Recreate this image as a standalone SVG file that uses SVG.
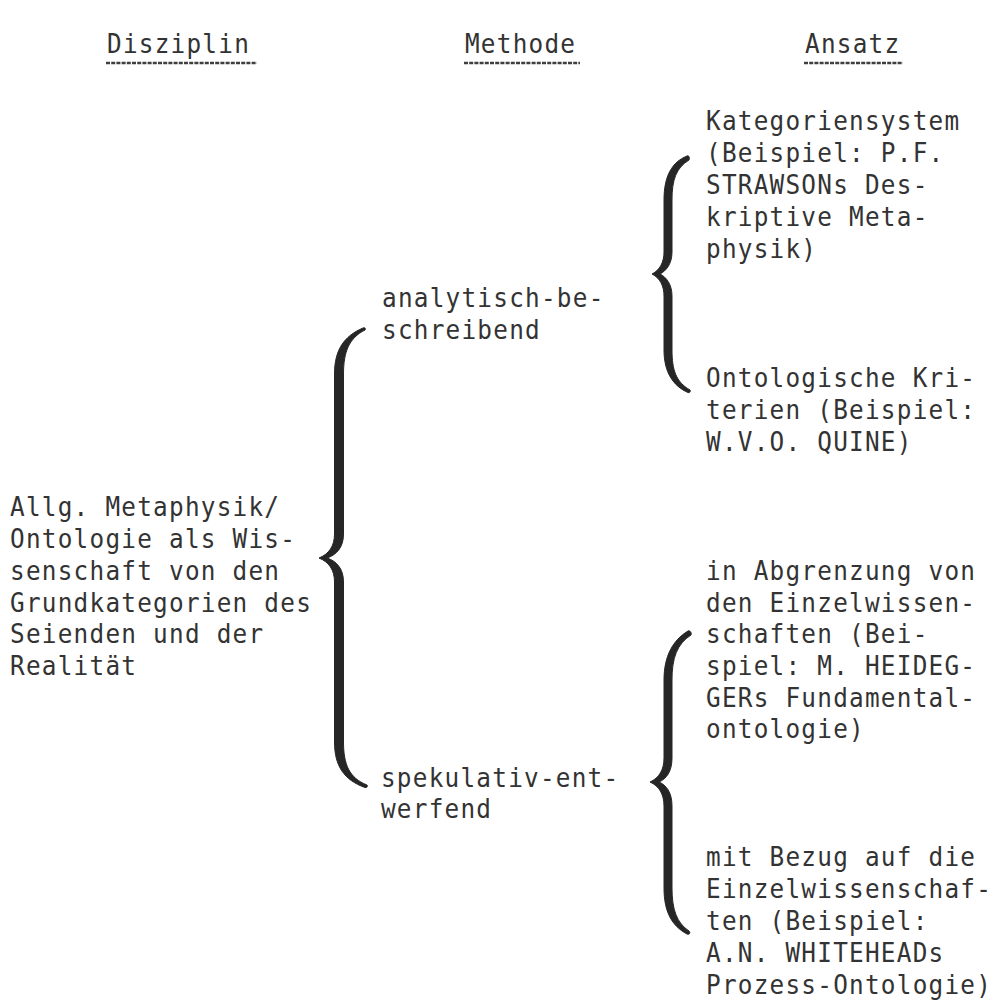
<svg xmlns="http://www.w3.org/2000/svg" width="994" height="1006" viewBox="0 0 994 1006">
<style>
text{font-family:"DejaVu Sans Mono","Liberation Mono",monospace;font-size:26.5px;letter-spacing:1.33px;fill:#333333}
.t{transform:scale(0.92,1)}
.ul{stroke:#404040;stroke-width:2.6;stroke-dasharray:4 1.2}
.brace{fill:#262626;stroke:#262626;stroke-width:1;stroke-linejoin:round}
</style>
<rect width="994" height="1006" fill="#ffffff"/>
<g id="headers">
<g id="h-disziplin"><g class="t"><text x="116.3" y="53">Disziplin</text></g><line class="ul" x1="106" y1="63" x2="257" y2="63"/></g>
<g id="h-methode"><g class="t"><text x="505.4" y="53">Methode</text></g><line class="ul" x1="464" y1="63" x2="580" y2="63"/></g>
<g id="h-ansatz"><g class="t"><text x="875" y="53">Ansatz</text></g><line class="ul" x1="804" y1="63" x2="903" y2="63"/></g>
</g>
<g id="n-disziplin" class="t">
<text x="10.9" y="516">Allg. Metaphysik/</text>
<text x="10.9" y="548">Ontologie als Wis-</text>
<text x="10.9" y="580">senschaft von den</text>
<text x="10.9" y="612">Grundkategorien des</text>
<text x="10.9" y="643.5">Seienden und der</text>
<text x="10.9" y="675">Realität</text>
</g>
<g id="n-analytisch" class="t">
<text x="415.2" y="307">analytisch-be-</text>
<text x="415.2" y="339">schreibend</text>
</g>
<g id="n-spekulativ" class="t">
<text x="414.1" y="787">spekulativ-ent-</text>
<text x="414.1" y="818">werfend</text>
</g>
<g id="n-kategoriensystem" class="t">
<text x="767.4" y="130">Kategoriensystem</text>
<text x="767.4" y="162">(Beispiel: P.F.</text>
<text x="767.4" y="194">STRAWSONs Des-</text>
<text x="767.4" y="226">kriptive Meta-</text>
<text x="767.4" y="258">physik)</text>
</g>
<g id="n-ontologische" class="t">
<text x="767.4" y="387">Ontologische Kri-</text>
<text x="767.4" y="419">terien (Beispiel:</text>
<text x="767.4" y="451">W.V.O. QUINE)</text>
</g>
<g id="n-abgrenzung" class="t">
<text x="767.4" y="580">in Abgrenzung von</text>
<text x="767.4" y="612">den Einzelwissen-</text>
<text x="767.4" y="643.5">schaften (Bei-</text>
<text x="767.4" y="675">spiel: M. HEIDEG-</text>
<text x="767.4" y="707">GERs Fundamental-</text>
<text x="767.4" y="738">ontologie)</text>
</g>
<g id="n-bezug" class="t">
<text x="767.4" y="866">mit Bezug auf die</text>
<text x="767.4" y="898">Einzelwissenschaf-</text>
<text x="767.4" y="930">ten (Beispiel:</text>
<text x="767.4" y="962">A.N. WHITEHEADs</text>
<text x="767.4" y="994">Prozess-Ontologie)</text>
</g>
<g id="connectors">
<path class="brace" d="M365,330 C349,338 343.5,352 343.5,374 L343.5,534 C343.5,548 336,555 327,558 C336,561 343.5,568 343.5,582 L343.5,742 C343.5,764 349,778 367,785 C368,786 367,788 365,787.5 C344,780 334.5,766 334.5,742 L334.5,582 C334.5,570 329,562 319,558 C329,554 334.5,546 334.5,534 L334.5,374 C334.5,350 344,336 363,328 C365,327 366,329 365,330 Z"/>
<path class="brace" d="M689,160 C676,168 672,180 672,200 L672,252 C672,264 666,271 660,274 C666,277 672,284 672,296 L672,350 C672,370 676,382 690,390 C691,392 689,393 688,392.5 C673,386 664,372 664,350 L664,296 C664,286 660,278 652,274 C660,270 664,262 664,252 L664,200 C664,176 672,162 687,156 C689,155 690,158 689,160 Z"/>
<path class="brace" d="M691,635 C677,644 672,658 672,680 L672,758 C672,772 666,779 659,782 C666,785 672,792 672,806 L672,888 C672,910 677,923 689,931 C691,933 689,935 687,934 C672,926 664,912 664,888 L664,806 C664,794 659,786 650,782 C659,778 664,770 664,758 L664,680 C664,656 673,640 688,631 C690,630 692,633 691,635 Z"/>
</g>
</svg>
